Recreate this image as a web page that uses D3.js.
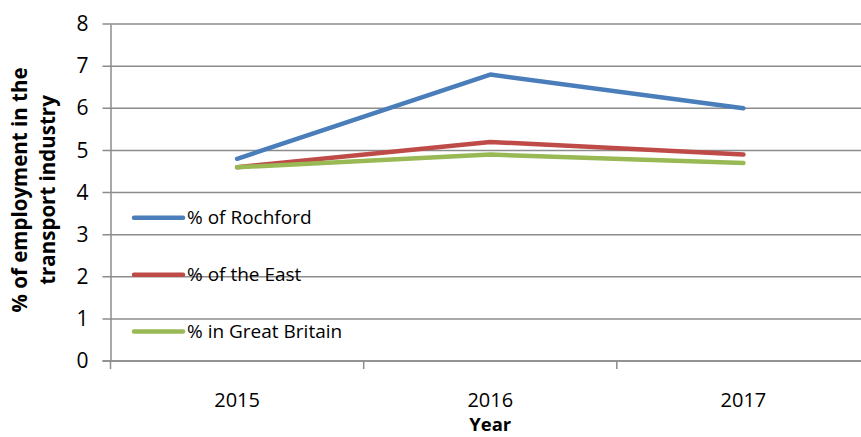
<!DOCTYPE html>
<html>
<head>
<meta charset="utf-8">
<script src="https://cdn.jsdelivr.net/npm/d3@7"></script>
<style>
  html, body { margin: 0; padding: 0; background: #ffffff; }
  svg text { font-family: "Open Sans", sans-serif; fill: #000; }
</style>
</head>
<body>
<svg id="chart" width="861" height="437"></svg>
<script>
// Share of employment in the transport industry, 2015–2017
const years = ["2015", "2016", "2017"];
const rochford = [4.8, 6.8, 6.0];
const east = [4.6, 5.2, 4.9];
const greatBritain = [4.6, 4.9, 4.7];
const yTicks = [0, 1, 2, 3, 4, 5, 6, 7, 8];
const seriesNames = ["% of Rochford", "% of the East", "% in Great Britain"];
const seriesColors = ["#4A7EBB", "#BE4B48", "#98B954"];
const legendLevels = [3.4, 2.05, 0.7];

const series = [rochford, east, greatBritain].map((values, i) => ({
  name: seriesNames[i], color: seriesColors[i], values, legendAt: legendLevels[i]
}));

const svg = d3.select("#chart");
const plotLeft = 110.5, plotRight = 870, plotTop = 24, plotBottom = 361;

const x = d3.scaleBand().domain(years).range([plotLeft, plotRight]);
const y = d3.scaleLinear().domain([0, 8]).range([plotBottom, plotTop]);

// horizontal gridlines
svg.append("g").selectAll("line").data(yTicks).join("line")
  .attr("x1", plotLeft - 8).attr("x2", 861)
  .attr("y1", d => y(d)).attr("y2", d => y(d))
  .attr("stroke", "#8c8c8c").attr("stroke-width", 1.5);

// y axis
const yAxis = svg.append("g").attr("transform", `translate(${plotLeft},0)`)
  .call(d3.axisLeft(y).tickValues(yTicks).tickSize(0).tickPadding(22).tickFormat(d3.format("d")));
yAxis.select(".domain").attr("stroke", "#8c8c8c").attr("stroke-width", 1.5);
yAxis.selectAll("text").attr("font-size", 21).attr("font-family", "'Open Sans', sans-serif");

// x axis with ticks at category boundaries
const xg = svg.append("g").attr("transform", `translate(0,${plotBottom})`);
xg.append("line").attr("x1", plotLeft - 8).attr("x2", 861).attr("y1", 0).attr("y2", 0)
  .attr("stroke", "#8c8c8c").attr("stroke-width", 1.5);
xg.selectAll("line.tick").data(years).join("line").attr("class", "tick")
  .attr("x1", d => x(d)).attr("x2", d => x(d)).attr("y1", 0).attr("y2", 8)
  .attr("stroke", "#8c8c8c").attr("stroke-width", 1.5);
xg.selectAll("text").data(years).join("text")
  .attr("x", d => x(d) + x.bandwidth() / 2).attr("y", 46)
  .attr("text-anchor", "middle").attr("font-size", 20).text(d => d);

// y axis title
const yTitle = svg.append("text")
  .attr("transform", "translate(27,190) rotate(-90)")
  .attr("text-anchor", "middle").attr("font-size", 20.5).attr("font-weight", "bold");
yTitle.append("tspan").attr("x", 0).attr("dy", 0).text("% of employment in the");
yTitle.append("tspan").attr("x", 0).attr("dy", 28).text("transport industry");

// x axis title
svg.append("text").attr("x", x("2016") + x.bandwidth() / 2).attr("y", 431)
  .attr("text-anchor", "middle").attr("font-size", 18.5).attr("font-weight", "bold").text("Year");

// series lines
const line = d3.line()
  .x((d, i) => x(years[i]) + x.bandwidth() / 2)
  .y(d => y(d));

svg.append("g").selectAll("path").data(series).join("path")
  .attr("d", s => line(s.values))
  .attr("fill", "none").attr("stroke", s => s.color)
  .attr("stroke-width", 4.5).attr("stroke-linejoin", "round").attr("stroke-linecap", "round");

// legend inside the plot area
const lg = svg.append("g").selectAll("g").data(series).join("g")
  .attr("transform", s => `translate(134,${y(s.legendAt)})`);
lg.append("line").attr("x1", 0).attr("x2", 49).attr("y1", 0).attr("y2", 0)
  .attr("stroke", s => s.color).attr("stroke-width", 4.5).attr("stroke-linecap", "round");
lg.append("text").attr("x", 53).attr("y", 0).attr("dy", "0.35em")
  .attr("font-size", 19).text(s => s.name);
</script>
</body>
</html>
